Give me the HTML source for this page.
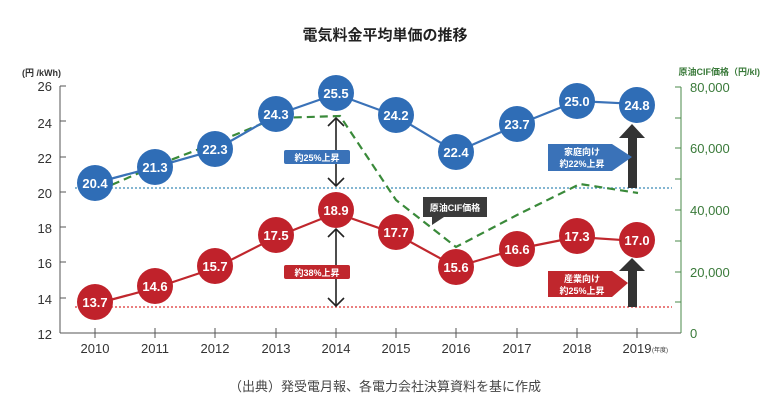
<!DOCTYPE html>
<html><head><meta charset="utf-8"><style>
body{margin:0;background:#fff;}
svg text{font-family:"Liberation Sans","Noto Sans CJK JP",sans-serif;}
</style></head><body>
<svg width="770" height="408" viewBox="0 0 770 408" xmlns="http://www.w3.org/2000/svg">
<text x="385" y="40" text-anchor="middle" font-size="15" font-weight="bold" fill="#222">電気料金平均単価の推移</text>
<!-- left axis -->
<text x="22" y="76" font-size="9" fill="#333" font-weight="bold">(円 /kWh)</text>
<line x1="60" y1="86" x2="60" y2="333" stroke="#555" stroke-width="1"/>
<line x1="60" y1="333" x2="681" y2="333" stroke="#555" stroke-width="1"/>
<g font-size="13" fill="#333" text-anchor="end">
<text x="52" y="91">26</text><text x="52" y="128">24</text><text x="52" y="163">22</text>
<text x="52" y="198">20</text><text x="52" y="233">18</text><text x="52" y="268">16</text>
<text x="52" y="304">14</text><text x="52" y="339">12</text></g>
<g stroke="#555"><line x1="60" y1="86" x2="66" y2="86"/><line x1="60" y1="121" x2="66" y2="121"/><line x1="60" y1="157" x2="66" y2="157"/><line x1="60" y1="192" x2="66" y2="192"/><line x1="60" y1="227" x2="66" y2="227"/><line x1="60" y1="262" x2="66" y2="262"/><line x1="60" y1="298" x2="66" y2="298"/></g>
<g stroke="#555">
<line x1="95" y1="328" x2="95" y2="338"/><line x1="155" y1="328" x2="155" y2="338"/><line x1="215" y1="328" x2="215" y2="338"/><line x1="276" y1="328" x2="276" y2="338"/><line x1="336" y1="328" x2="336" y2="338"/><line x1="396" y1="328" x2="396" y2="338"/><line x1="456" y1="328" x2="456" y2="338"/><line x1="517" y1="328" x2="517" y2="338"/><line x1="577" y1="328" x2="577" y2="338"/><line x1="637" y1="328" x2="637" y2="338"/></g>
<g font-size="13" fill="#333" text-anchor="middle">
<text x="95" y="353">2010</text><text x="155" y="353">2011</text><text x="215" y="353">2012</text><text x="276" y="353">2013</text><text x="336" y="353">2014</text><text x="396" y="353">2015</text><text x="456" y="353">2016</text><text x="517" y="353">2017</text><text x="577" y="353">2018</text><text x="637" y="353">2019</text></g>
<text x="652" y="352" font-size="6" fill="#333">(年度)</text>
<!-- right axis -->
<text x="760" y="75" font-size="9" fill="#3a7a3a" font-weight="bold" text-anchor="end">原油CIF価格（円/kl)</text>
<line x1="681" y1="87" x2="681" y2="333" stroke="#4a8a4a"/>
<g stroke="#4a8a4a"><line x1="675" y1="87" x2="681" y2="87"/><line x1="675" y1="118" x2="681" y2="118"/><line x1="675" y1="148" x2="681" y2="148"/><line x1="675" y1="179" x2="681" y2="179"/><line x1="675" y1="210" x2="681" y2="210"/><line x1="675" y1="241" x2="681" y2="241"/><line x1="675" y1="272" x2="681" y2="272"/><line x1="675" y1="302" x2="681" y2="302"/></g>
<g font-size="13" fill="#3a7a3a"><text x="690" y="92">80,000</text><text x="690" y="153">60,000</text><text x="690" y="215">40,000</text><text x="690" y="277">20,000</text><text x="690" y="338">0</text></g>
<!-- dotted -->
<line x1="75" y1="188" x2="672" y2="188" stroke="#3a8ab8" stroke-width="1.3" stroke-dasharray="2,2"/>
<line x1="75" y1="307" x2="672" y2="307" stroke="#d33" stroke-width="1.3" stroke-dasharray="2,2"/>
<!-- green dashed -->
<polyline points="100,190 155,166 215,143 276,118 340,116 396,200 456,247 517,215 580,184 638,193" fill="none" stroke="#3a8a3a" stroke-width="2.2" stroke-dasharray="8,5"/>
<!-- blue line -->
<polyline points="95,183 155,167 215,150 276,115 336,94 396,116 456,152 517,125 577,101 637,104" fill="none" stroke="#3a72b8" stroke-width="2.2"/>
<polyline points="95,304 155,288 215,268 276,237 336,213 396,234 456,267 517,249 577,237 637,241" fill="none" stroke="#c0272d" stroke-width="2.2"/>
<!-- arrows 2014 -->
<g stroke="#222" stroke-width="1.6" fill="none">
<line x1="336" y1="118" x2="336" y2="186"/><polyline points="328,126 336,118 344,126"/><polyline points="328,178 336,186 344,178"/>
<line x1="336" y1="229" x2="336" y2="306"/><polyline points="328,237 336,229 344,237"/><polyline points="328,298 336,306 344,298"/></g>
<rect x="284" y="150" width="66" height="14" rx="2" fill="#3a72b8"/>
<text x="317" y="161" font-size="9" font-weight="bold" fill="#fff" text-anchor="middle">約25%上昇</text>
<rect x="284" y="265" width="66" height="14" rx="2" fill="#c0272d"/>
<text x="317" y="276" font-size="9" font-weight="bold" fill="#fff" text-anchor="middle">約38%上昇</text>
<!-- big arrows -->
<polygon points="628,188 637,188 637,138 645,138 632,124 619,138 628,138" fill="#333"/>
<polygon points="628,307 637,307 637,271 645,271 632,258 619,271 628,271" fill="#333"/>
<polygon points="548,144 612,144 632,157 612,171 548,171" fill="#3a72b8"/>
<text x="582" y="155" font-size="9" font-weight="bold" fill="#fff" text-anchor="middle">家庭向け</text>
<text x="582" y="167" font-size="9" font-weight="bold" fill="#fff" text-anchor="middle">約22%上昇</text>
<polygon points="548,271 612,271 628,283 612,297 548,297" fill="#c0272d"/>
<text x="582" y="282" font-size="9" font-weight="bold" fill="#fff" text-anchor="middle">産業向け</text>
<text x="582" y="294" font-size="9" font-weight="bold" fill="#fff" text-anchor="middle">約25%上昇</text>
<!-- callout -->
<rect x="423" y="197" width="64" height="20" fill="#3a3a3a"/>
<polygon points="432,217 444,217 432,225" fill="#3a3a3a"/>
<text x="455" y="211" font-size="9" font-weight="bold" fill="#fff" text-anchor="middle">原油CIF価格</text>
<!-- circles -->
<g fill="#2f6db6">
<circle cx="95" cy="183" r="18"/><circle cx="155" cy="167" r="18"/><circle cx="215" cy="149" r="18"/><circle cx="276" cy="114" r="18"/><circle cx="336" cy="93" r="18"/><circle cx="396" cy="115" r="18"/><circle cx="456" cy="152" r="18"/><circle cx="517" cy="124" r="18"/><circle cx="577" cy="101" r="18"/><circle cx="637" cy="105" r="18"/></g>
<g fill="#c0222b">
<circle cx="95" cy="302" r="18"/><circle cx="155" cy="286" r="18"/><circle cx="215" cy="266" r="18"/><circle cx="276" cy="235" r="18"/><circle cx="336" cy="210" r="18"/><circle cx="396" cy="232" r="18"/><circle cx="456" cy="267" r="18"/><circle cx="517" cy="249" r="18"/><circle cx="577" cy="236" r="18"/><circle cx="637" cy="240" r="18"/></g>
<g font-size="13" font-weight="bold" fill="#fff" text-anchor="middle">
<text x="95" y="188">20.4</text><text x="155" y="172">21.3</text><text x="215" y="154">22.3</text><text x="276" y="119">24.3</text><text x="336" y="98">25.5</text><text x="396" y="120">24.2</text><text x="456" y="157">22.4</text><text x="517" y="129">23.7</text><text x="577" y="106">25.0</text><text x="637" y="110">24.8</text>
<text x="95" y="307">13.7</text><text x="155" y="291">14.6</text><text x="215" y="271">15.7</text><text x="276" y="240">17.5</text><text x="336" y="215">18.9</text><text x="396" y="237">17.7</text><text x="456" y="272">15.6</text><text x="517" y="254">16.6</text><text x="577" y="241">17.3</text><text x="637" y="245">17.0</text></g>
<text x="385" y="391" font-size="13" fill="#444" text-anchor="middle">（出典）発受電月報、各電力会社決算資料を基に作成</text>
</svg>
</body></html>
